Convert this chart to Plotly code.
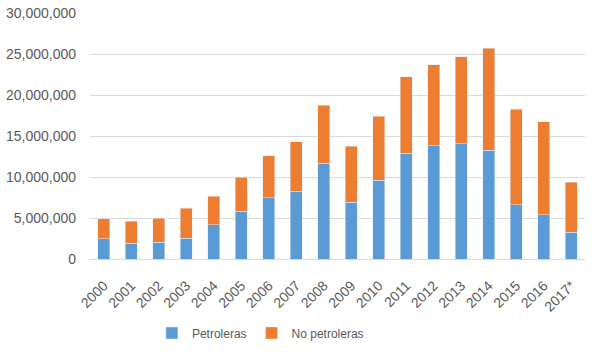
import plotly.graph_objects as go

years = ["2000", "2001", "2002", "2003", "2004", "2005", "2006", "2007", "2008",
         "2009", "2010", "2011", "2012", "2013", "2014", "2015", "2016", "2017*"]
petroleras = [2480000, 1910000, 2070000, 2560000, 4190000, 5810000, 7480000, 8290000, 11700000,
              6910000, 9630000, 12890000, 13820000, 14060000, 13290000, 6590000, 5410000, 3250000]
totales = [4920000, 4630000, 5000000, 6180000, 7640000, 10000000, 12600000, 14270000, 18780000,
           13780000, 17400000, 22240000, 23700000, 24670000, 25690000, 18290000, 16710000, 9350000]
no_petroleras = [t - p for t, p in zip(totales, petroleras)]

fig = go.Figure()
fig.add_trace(go.Bar(x=years, y=petroleras, name="Petroleras", marker_color="#5B9BD5"))
fig.add_trace(go.Bar(x=years, y=no_petroleras, name="No petroleras", marker_color="#ED7D31"))

fig.update_layout(
    barmode="stack",
    bargap=0.55,
    width=600, height=352,
    margin=dict(l=90, r=15, t=13, b=93),
    paper_bgcolor="white", plot_bgcolor="white",
    font=dict(family="Liberation Sans", size=14, color="#595959"),
    showlegend=True,
    legend=dict(orientation="h", x=0.125, xanchor="left", yref="container", y=0.054,
                yanchor="middle", itemwidth=30, font=dict(size=12, color="#595959"),
                traceorder="normal"),
    xaxis=dict(tickangle=-45, showline=True, linecolor="#D9D9D9", linewidth=1,
               ticks="", tickfont=dict(size=14), automargin=False, ticklabelstandoff=12),
    yaxis=dict(range=[0, 30000000], dtick=5000000, tickformat=",d", gridcolor="#D9D9D9",
               gridwidth=1, zeroline=False, ticks="", ticklen=0, tickfont=dict(size=14),
               automargin=False, ticklabelstandoff=13),
)

fig.write_html("out.html")
